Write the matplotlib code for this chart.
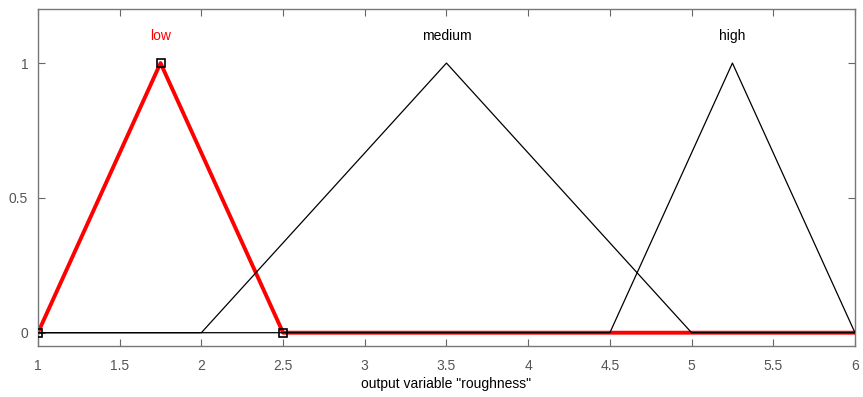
import numpy as np
import matplotlib
matplotlib.use("Agg")
import matplotlib.pyplot as plt

plt.rcParams['font.family'] = ['Liberation Sans', 'DejaVu Sans']

x_range = (1, 6)
mf_names = ["low", "medium", "high"]
mf_params = [(1, 1.75, 2.5), (2, 3.5, 5), (4.5, 5.25, 6)]
selected = 0  # "low" is highlighted

x_ticks = [1, 1.5, 2, 2.5, 3, 3.5, 4, 4.5, 5, 5.5, 6]
y_ticks = [0, 0.5, 1]
x_label = 'output variable "roughness"'


def trimf_points(p):
    a, b, c = p
    xs = [x_range[0], a, b, c, x_range[1]]
    ys = [0, 0, 1, 0, 0]
    return xs, ys


fig = plt.figure(figsize=(8.63, 3.97), dpi=100)
ax = fig.add_axes([0.044, 0.128, 0.9467, 0.849])

# highlighted one first, so the black lines sit on top of it
xs, ys = trimf_points(mf_params[selected])
ax.plot(xs, ys, color="red", lw=2.8, zorder=2)
a, b, c = mf_params[selected]
ax.plot([a, b, c], [0, 1, 0], ls="none", marker="s", ms=6, mfc="none",
        mec="black", mew=1.2, zorder=4)

for i, p in enumerate(mf_params):
    if i == selected:
        continue
    xs, ys = trimf_points(p)
    ax.plot(xs, ys, color="black", lw=0.9, zorder=3)

for i, (name, p) in enumerate(zip(mf_names, mf_params)):
    ax.text(p[1], 1.1, name, ha="center", va="center", fontsize=10,
            color="red" if i == selected else "black")

ax.set_xlim(*x_range)
ax.set_ylim(-0.05, 1.2)
ax.set_xticks(x_ticks)
ax.set_xticklabels([f"{t:g}" for t in x_ticks])
ax.set_yticks(y_ticks)
ax.set_yticklabels([f"{t:g}" for t in y_ticks])
ax.tick_params(direction="in", top=True, right=True, length=5,
               color="#666666", labelcolor="#555555", labelsize=10)
ax.tick_params(axis="x", pad=9)
ax.tick_params(axis="y", pad=7)
for s in ax.spines.values():
    s.set_color("#777777")
    s.set_linewidth(1.0)
ax.set_xlabel(x_label, fontsize=10, labelpad=3)

fig.savefig("out.png", dpi=100)
